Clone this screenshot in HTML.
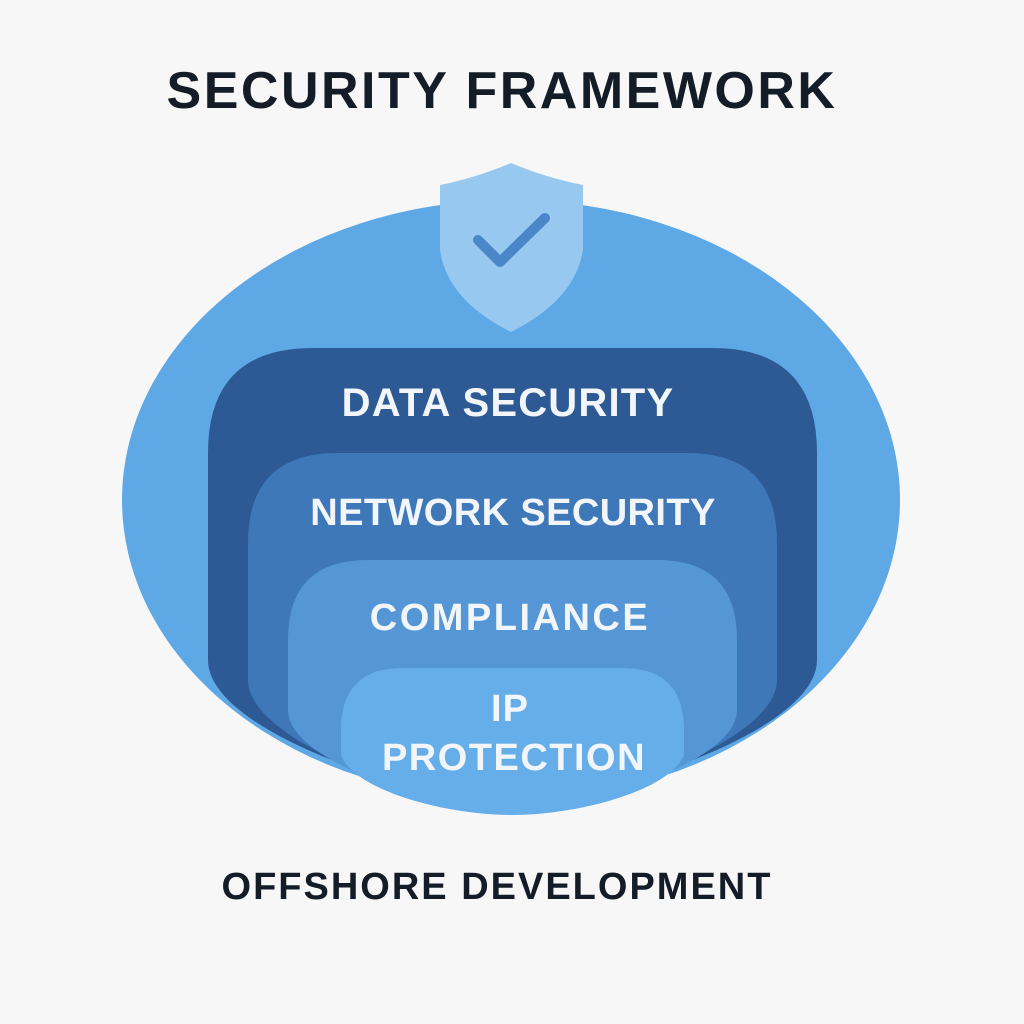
<!DOCTYPE html>
<html><head><style>
html,body{margin:0;padding:0;background:#f7f7f7;}
svg{display:block}
text{font-family:"Liberation Sans",sans-serif;font-weight:bold;text-anchor:middle;}
</style></head><body>
<svg width="1024" height="1024" viewBox="0 0 1024 1024">
<rect width="1024" height="1024" fill="#f7f7f7"/>
<text x="502" y="108" font-size="52" fill="#141c28" letter-spacing="2.5">SECURITY FRAMEWORK</text>
<defs><clipPath id="c"><ellipse cx="511" cy="500" rx="389" ry="300"/></clipPath></defs>
<ellipse cx="511" cy="500" rx="389" ry="300" fill="#5ea8e6"/>
<g clip-path="url(#c)">
<path d="M208,453 Q208,348 313,348 L712,348 Q817,348 817,453 L817,660 C817,730 620,795 512,805 C404,795 208,730 208,660 Z" fill="#2d5a94"/>
<path d="M248,543 Q248,453 338,453 L687,453 Q777,453 777,543 L777,680 C777,740 610,800 512,808 C414,800 248,740 248,680 Z" fill="#3e78b9"/>
<path d="M288,640 Q288,560 368,560 L657,560 Q737,560 737,640 L737,710 C737,760 600,805 512,810 C424,805 288,760 288,710 Z" fill="#5597d6"/>
</g>
<path d="M341,730 Q341,668 403,668 L622,668 Q684,668 684,730 L684,755 C670,790 580,815 512,815 C444,815 354,790 341,755 Z" fill="#66aeea"/>
<path d="M440 185 Q475 178 511 163 Q547 178 583 185 L583 250 Q575 300 511 332 Q447 300 440 250 Z" fill="#97c8f0"/>
<path d="M478 240 L500 262 L545 218" fill="none" stroke="#4a86c8" stroke-width="10" stroke-linecap="round" stroke-linejoin="round"/>
<g fill="#f2f6fb">
<text x="508" y="416" font-size="40" letter-spacing="1.2">DATA SECURITY</text>
<text x="513" y="525" font-size="38" letter-spacing="0.4">NETWORK SECURITY</text>
<text x="510" y="630" font-size="38" letter-spacing="2.5">COMPLIANCE</text>
<text x="510" y="721" font-size="38" letter-spacing="1">IP</text>
<text x="514" y="770" font-size="38" letter-spacing="1.5">PROTECTION</text>
</g>
<text x="497" y="899" font-size="38" fill="#141c28" letter-spacing="2">OFFSHORE DEVELOPMENT</text>
</svg>
</body></html>
